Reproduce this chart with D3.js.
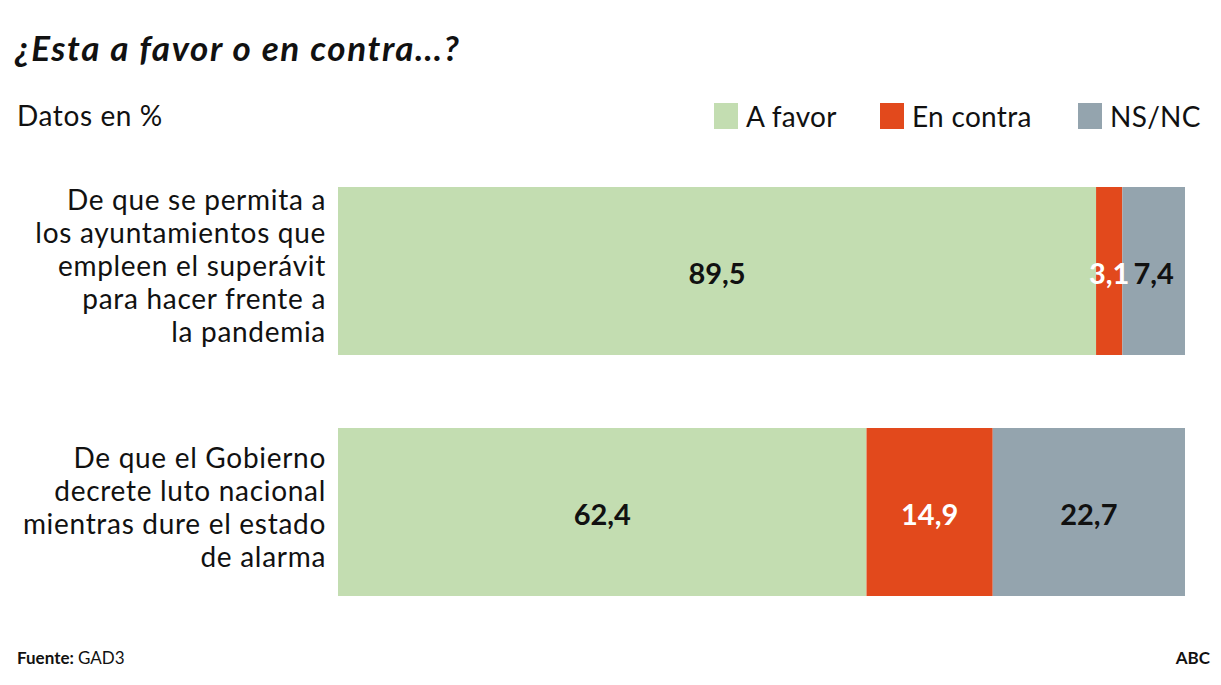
<!DOCTYPE html>
<html>
<head>
<meta charset="utf-8">
<script src="https://cdn.jsdelivr.net/npm/d3@7"></script>
<style>
  html, body { margin: 0; padding: 0; background: #fff; }
  svg { display: block; font-family: Lato, "Open Sans", sans-serif; }
</style>
</head>
<body>
<svg id="chart" width="1221" height="685"></svg>
<script>
const title = "¿Esta a favor o en contra…?";
const subtitle = "Datos en %";
const seriesNames = ["A favor", "En contra", "NS/NC"];
const seriesColors = ["#c3ddb1", "#e2491c", "#94a4ae"];
const valueColors = ["#111111", "#ffffff", "#111111"];
const questions = [
  ["De que se permita a", "los ayuntamientos que", "empleen el superávit", "para hacer frente a", "la pandemia"],
  ["De que el Gobierno", "decrete luto nacional", "mientras dure el estado", "de alarma"]
];
const aFavor = [89.5, 62.4];
const enContra = [3.1, 14.9];
const nsnc = [7.4, 22.7];
const source = "GAD3";
const brand = "ABC";

const svg = d3.select("#chart");

const rows = questions.map((q, i) => ({ id: i, label: q, values: [aFavor[i], enContra[i], nsnc[i]] }));

const x = d3.scaleLinear().domain([0, 100]).range([338, 1185]);
const y = d3.scaleBand().domain(rows.map(d => d.id)).range([187, 596]).paddingInner(0.303).paddingOuter(0);
const color = d3.scaleOrdinal().domain(seriesNames).range(seriesColors);

// Title
svg.append("text").attr("x", 15).attr("y", 61)
  .attr("font-size", 35).attr("font-weight", 700).attr("font-style", "italic")
  .attr("letter-spacing", 1.6)
  .attr("fill", "#111").text(title);

svg.append("text").attr("x", 17).attr("y", 126)
  .attr("font-size", 28).attr("letter-spacing", 0.6).attr("fill", "#111").text(subtitle);

// Legend
const legendX = [714, 880, 1078];
const leg = svg.append("g").selectAll("g").data(seriesNames).join("g")
  .attr("transform", (d, i) => `translate(${legendX[i]},0)`);
leg.append("rect").attr("x", 0).attr("y", 103).attr("width", 24).attr("height", 26)
  .attr("fill", d => color(d));
leg.append("text").attr("x", 32).attr("y", 127).attr("font-size", 28).attr("letter-spacing", 0.3)
  .attr("fill", "#111").text(d => d);

// Bars
const stackData = rows.map(r => {
  let acc = 0;
  return r.values.map((v, k) => { const s = { row: r.id, k, v, x0: acc, x1: acc + v }; acc += v; return s; });
});

const gRows = svg.append("g").selectAll("g").data(stackData).join("g");
gRows.selectAll("rect").data(d => d).join("rect")
  .attr("x", d => x(d.x0)).attr("width", d => x(d.x1) - x(d.x0))
  .attr("y", d => y(d.row)).attr("height", y.bandwidth())
  .attr("fill", d => seriesColors[d.k]);

gRows.selectAll("text").data(d => d).join("text")
  .attr("x", d => (x(d.x0) + x(d.x1)) / 2)
  .attr("y", d => y(d.row) + y.bandwidth() / 2 + 13)
  .attr("text-anchor", "middle")
  .attr("font-size", 29).attr("font-weight", 700)
  .attr("fill", d => valueColors[d.k])
  .text(d => d3.format(".1f")(d.v).replace(".", ","));

// Category labels
const lh = 33;
const labG = svg.append("g").selectAll("text").data(rows).join("text")
  .attr("text-anchor", "end").attr("font-size", 28).attr("letter-spacing", 0.7).attr("fill", "#111");
labG.each(function(d) {
  const n = d.label.length;
  const cy = y(d.id) + y.bandwidth() / 2;
  d3.select(this).selectAll("tspan").data(d.label).join("tspan")
    .attr("x", 326)
    .attr("y", (t, i) => cy + (i - (n - 1) / 2) * lh + 5)
    .text(t => t);
});

// Footer
const foot = svg.append("text").attr("x", 17).attr("y", 664).attr("font-size", 17).attr("fill", "#111");
foot.append("tspan").attr("font-weight", 700).text("Fuente: ");
foot.append("tspan").text(source);
svg.append("text").attr("x", 1210).attr("y", 664).attr("text-anchor", "end")
  .attr("font-size", 17).attr("font-weight", 700).attr("fill", "#111").text(brand);
</script>
</body>
</html>
